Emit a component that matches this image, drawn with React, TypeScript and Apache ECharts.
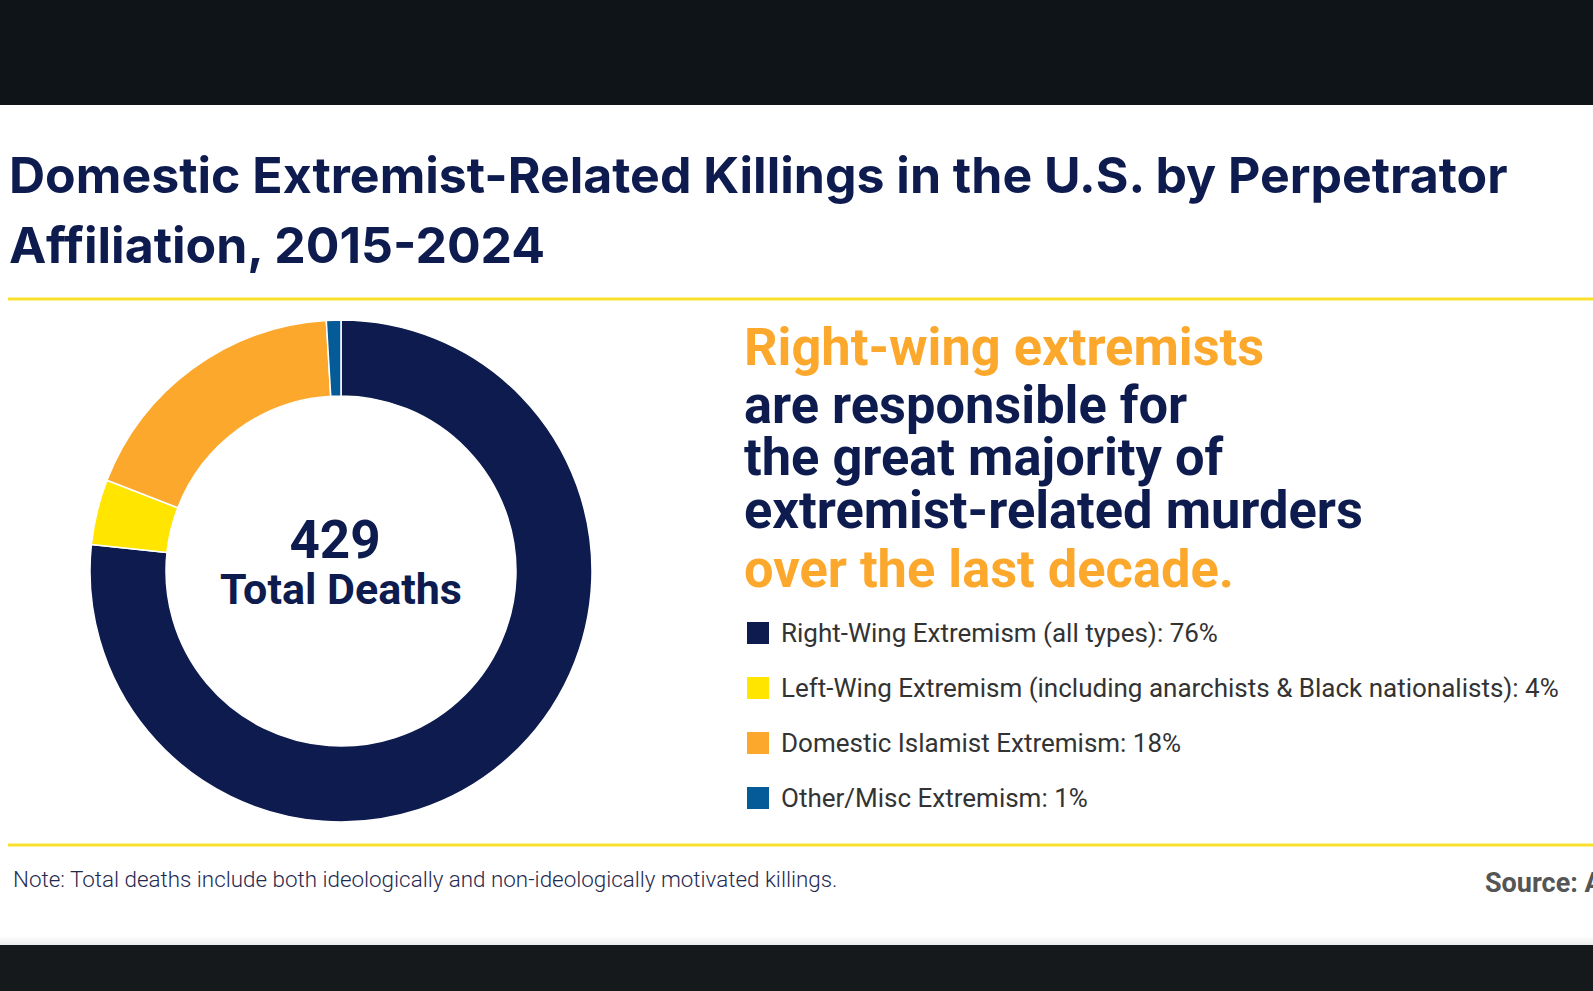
import React, { useEffect, useRef } from "react";
import * as echarts from "echarts";

// ---- data ----
const categories = [
  "Right-Wing Extremism (all types)",
  "Left-Wing Extremism (including anarchists & Black nationalists)",
  "Domestic Islamist Extremism",
  "Other/Misc Extremism",
];
const deaths = [329, 18, 78, 4];
const sharePct = [76, 4, 18, 1];
const sliceColors = ["#0d1b4e", "#ffe500", "#fca82c", "#045b98"];
const totalDeaths = 429;

const titleLines = [
  "Domestic Extremist-Related Killings in the U.S. by Perpetrator",
  "Affiliation, 2015-2024",
];
const headlineLines = [
  { text: "Right-wing extremists", accent: true },
  { text: "are responsible for", accent: false },
  { text: "the great majority of", accent: false },
  { text: "extremist-related murders", accent: false },
  { text: "over the last decade.", accent: true },
];
const noteText =
  "Note: Total deaths include both ideologically and non-ideologically motivated killings.";
const sourceText = "Source: ADL";

const NAVY = "#0d1b4e";
const ORANGE = "#fca82c";
const YELLOW_RULE = "#f8e02c";

export default function App() {
  const ref = useRef<HTMLDivElement>(null);

  useEffect(() => {
    if (!ref.current) return;
    const chart = echarts.init(ref.current, undefined, { renderer: "svg" });

    const titleBaselines = [193, 263];
    const headBaselines = [365, 423, 475, 528, 587];

    const graphics: any[] = [
      { type: "rect", left: 0, top: 0, shape: { width: 1593, height: 105 }, style: { fill: "#0f1419" }, silent: true },
      {
        type: "rect", left: 0, top: 936,
        shape: { width: 1593, height: 9 },
        style: {
          fill: new echarts.graphic.LinearGradient(0, 0, 0, 1, [
            { offset: 0, color: "#ffffff" },
            { offset: 1, color: "#ececec" },
          ]),
        },
        silent: true,
      },
      { type: "rect", left: 0, top: 945, shape: { width: 1593, height: 46 }, style: { fill: "#16191c" }, silent: true },
      { type: "line", shape: { x1: 8, y1: 299, x2: 1593, y2: 299 }, style: { stroke: YELLOW_RULE, lineWidth: 3 }, silent: true },
      { type: "line", shape: { x1: 8, y1: 845, x2: 1593, y2: 845 }, style: { stroke: YELLOW_RULE, lineWidth: 3 }, silent: true },
    ];

    titleLines.forEach((t, i) => {
      graphics.push({
        type: "text", x: 9, y: titleBaselines[i] - 18,
        style: {
          text: t, fill: NAVY, font: "700 50px Inter", lineHeight: 50,
          align: "left", verticalAlign: "middle",
        },
        silent: true,
      });
    });

    headlineLines.forEach((l, i) => {
      graphics.push({
        type: "text", x: 744, y: headBaselines[i] - 18,
        style: {
          text: l.text, fill: l.accent ? ORANGE : NAVY, font: "700 52.4px Roboto", lineHeight: 46,
          align: "left", verticalAlign: "middle",
        },
        silent: true,
      });
    });

    graphics.push(
      {
        type: "text", x: 335, y: 540,
        style: { text: String(totalDeaths), fill: NAVY, font: "700 53px Roboto", lineHeight: 44, align: "center", verticalAlign: "middle" },
        silent: true,
      },
      {
        type: "text", x: 341, y: 589,
        style: { text: "Total Deaths", fill: NAVY, font: "700 43px Roboto", lineHeight: 40, align: "center", verticalAlign: "middle" },
        silent: true,
      },
      {
        type: "text", x: 13, y: 879,
        style: { text: noteText, fill: "#1f2a50", font: "300 22.4px Roboto", align: "left", verticalAlign: "middle" },
        silent: true,
      },
      {
        type: "text", x: 1485, y: 883,
        style: { text: sourceText, fill: "#555555", font: "700 27px Roboto", align: "left", verticalAlign: "middle" },
        silent: true,
      }
    );

    chart.setOption({
      animation: false,
      backgroundColor: "#ffffff",
      color: sliceColors,
      legend: {
        orient: "vertical",
        left: 745,
        top: 620,
        padding: 0,
        itemWidth: 24,
        itemHeight: 24,
        itemGap: 29,
        icon: "rect",
        selectedMode: false,
        data: categories,
        formatter: (name: string) => `${name}: ${sharePct[categories.indexOf(name)]}%`,
        textStyle: {
          fontFamily: "Roboto",
          fontSize: 26,
          lineHeight: 26,
          color: "#333333",
          padding: [0, 0, 0, 6],
        },
      },
      graphic: graphics,
      series: [
        {
          type: "pie",
          center: [341, 571],
          radius: [175, 251],
          startAngle: 90,
          clockwise: true,
          label: { show: false },
          labelLine: { show: false },
          emphasis: { disabled: true },
          itemStyle: { borderColor: "#ffffff", borderWidth: 1.5 },
          data: categories.map((c, i) => ({ name: c, value: deaths[i] })),
        },
      ],
    });

    return () => chart.dispose();
  }, []);

  return (
    <div
      ref={ref}
      style={{ position: "absolute", left: 0, top: 0, width: 1593, height: 991 }}
    />
  );
}
